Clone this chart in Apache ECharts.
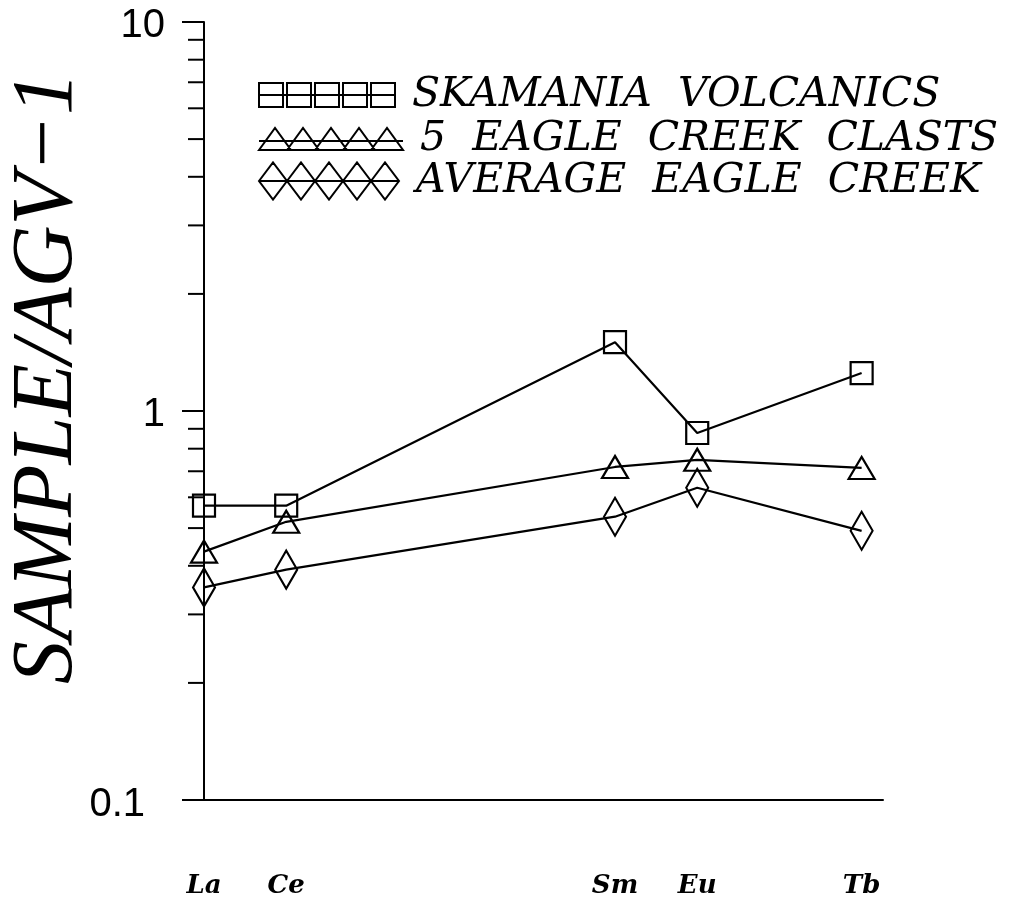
<!DOCTYPE html>
<html>
<head>
<meta charset="utf-8">
<script src="https://cdn.jsdelivr.net/npm/echarts@6/dist/echarts.min.js"></script>
<style>html,body{margin:0;padding:0;background:#fff}#c{width:1020px;height:908px}</style>
</head>
<body>
<div id="c"></div>
<script>
// ---- data ----
const elements = ['La', 'Ce', 'Sm', 'Eu', 'Tb'];
const atomicNumbers = [57, 58, 62, 63, 65];
const seriesNames = ['SKAMANIA  VOLCANICS', '5  EAGLE  CREEK  CLASTS', 'AVERAGE  EAGLE  CREEK'];
const skamania = [0.571, 0.571, 1.503, 0.878, 1.252];
const eagleClasts = [0.435, 0.519, 0.718, 0.749, 0.714];
const eagleAverage = [0.352, 0.391, 0.535, 0.635, 0.492];
const yTickLabels = ['0.1', '1', '10'];
const yMinorTicks = [0.2, 0.3, 0.4, 0.5, 0.6, 0.7, 0.8, 0.9, 2, 3, 4, 5, 6, 7, 8, 9];
const yAxisTitle = 'SAMPLE/AGV\u22121';

function pairs(vals) { return atomicNumbers.map((x, i) => [x, vals[i]]); }

function iconPath(kind) {
  let p = '';
  for (let i = 0; i < 5; i++) {
    const x = i * 28;
    if (kind === 'sq') p += `M${x} 0 L${x + 24} 0 L${x + 24} 24 L${x} 24 Z `;
    if (kind === 'tri') p += `M${x} 22 L${x + 16} 0 L${x + 32} 22 Z `;
    if (kind === 'dia') p += `M${x} 18.5 L${x + 14} 0 L${x + 28} 18.5 L${x + 14} 37 Z `;
  }
  if (kind === 'sq') p += 'M0 12 L136 12';
  if (kind === 'tri') p += 'M0 13 L144 13';
  if (kind === 'dia') p += 'M0 18.5 L140 18.5';
  return 'path://' + p;
}

const markerStyle = { color: 'rgba(0,0,0,0)', borderColor: '#000', borderWidth: 2.2 };
const lineStyle = { color: '#000', width: 2.2 };
const legendText = { fontFamily: 'DejaVu Serif', fontStyle: 'italic', fontSize: 41, color: '#000', padding: [0, 0, 0, 12], lineHeight: 44 };

function mkLegend(name, icon, w, h, top) {
  return {
    data: [{ name: name, icon: icon }],
    left: 258, top: top, padding: 0, itemWidth: w, itemHeight: h,
    selectedMode: false,
    itemStyle: { color: 'rgba(0,0,0,0)', borderColor: '#000', borderWidth: 2 },
    textStyle: legendText
  };
}

const chart = echarts.init(document.getElementById('c'), null, { renderer: 'canvas' });
chart.setOption({
  animation: false,
  backgroundColor: '#fff',
  grid: { left: 204, right: 137, top: 22, bottom: 108 },
  legend: [
    mkLegend(seriesNames[0], iconPath('sq'), 136, 24, 73),
    mkLegend(seriesNames[1], iconPath('tri'), 144, 22, 117),
    mkLegend(seriesNames[2], iconPath('dia'), 140, 37, 159)
  ],
  xAxis: {
    type: 'value', min: 57, max: 65.26,
    axisLine: { show: true, lineStyle: { color: '#000', width: 2 } },
    axisTick: { show: false },
    splitLine: { show: false },
    axisLabel: {
      customValues: atomicNumbers,
      formatter: v => elements[atomicNumbers.indexOf(v)] || '',
      margin: 73,
      fontFamily: 'DejaVu Serif', fontStyle: 'italic', fontWeight: 'bold', fontSize: 26, color: '#000'
    }
  },
  yAxis: {
    type: 'log', logBase: 10, min: 0.1, max: 10,
    axisLine: { show: true, lineStyle: { color: '#000', width: 2 } },
    axisTick: { show: true, length: 22, lineStyle: { color: '#000', width: 2 } },
    splitLine: { show: false },
    axisLabel: {
      margin: 39,
      formatter: v => {
        const s = yTickLabels.find(t => Math.abs(parseFloat(t) - v) < 1e-6) || '';
        return s === '0.1' ? '{b|' + s + '}' : '{a|' + s + '}';
      },
      rich: {
        a: { fontFamily: 'Liberation Sans', fontSize: 40, color: '#000', padding: [8, 0, 0, 0] },
        b: { fontFamily: 'Liberation Sans', fontSize: 40, color: '#000', padding: [10, 20, 0, 0] }
      }
    }
  },
  graphic: [{
    type: 'text', x: 48, y: 378, rotation: Math.PI / 2,
    style: { text: yAxisTitle, fontFamily: 'Liberation Serif', fontStyle: 'italic', fontSize: 86, fill: '#000', align: 'center', verticalAlign: 'middle' }
  }],
  series: [
    { name: seriesNames[0], type: 'line', data: pairs(skamania), symbol: 'rect', symbolSize: [22, 22], itemStyle: markerStyle, lineStyle: lineStyle, silent: true, z: 3 },
    { name: seriesNames[1], type: 'line', data: pairs(eagleClasts), symbol: 'triangle', symbolSize: [26, 22], itemStyle: markerStyle, lineStyle: lineStyle, silent: true, z: 3 },
    { name: seriesNames[2], type: 'line', data: pairs(eagleAverage), symbol: 'diamond', symbolSize: [22, 38], itemStyle: markerStyle, lineStyle: lineStyle, silent: true, z: 3 },
    {
      type: 'custom', silent: true, clip: false, z: 2,
      data: yMinorTicks.map(v => [57, v]),
      renderItem: (params, api) => {
        const p = api.coord([api.value(0), api.value(1)]);
        return { type: 'line', shape: { x1: p[0] - 16, y1: p[1], x2: p[0], y2: p[1] }, style: { stroke: '#000', lineWidth: 2 } };
      }
    }
  ]
});
</script>
</body>
</html>
